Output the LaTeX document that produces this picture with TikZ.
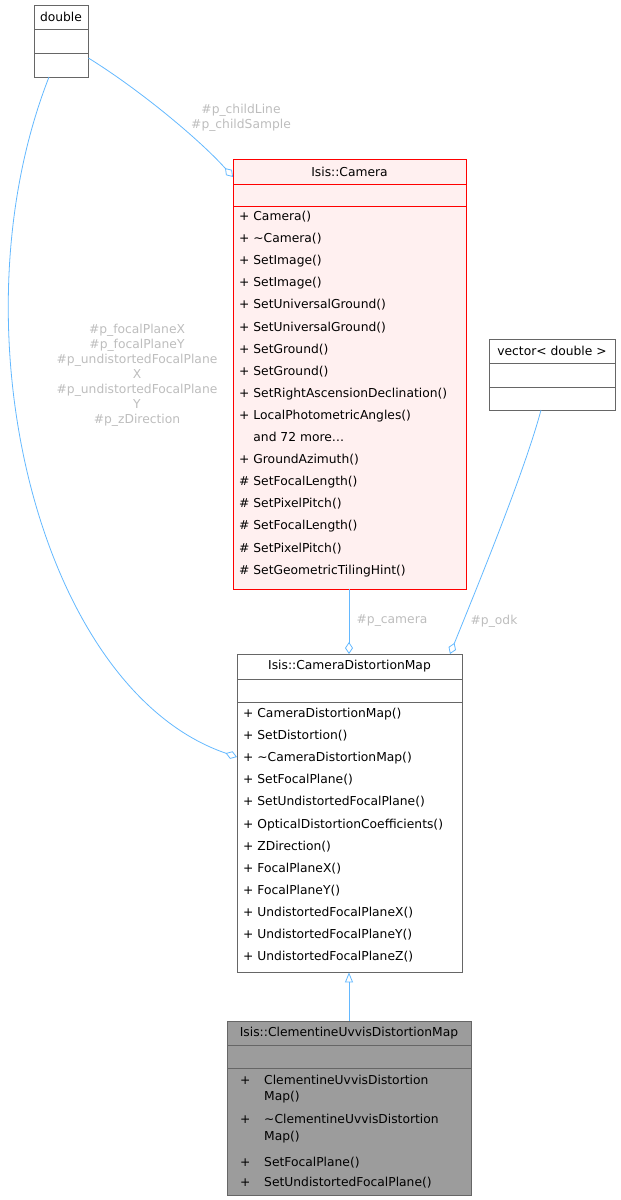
\documentclass[tikz,border=0pt]{standalone}
\usepackage{fontspec}
\setmainfont{DejaVu Sans}
\usetikzlibrary{arrows.meta}
\definecolor{edgeblue}{HTML}{63B8FF}
\definecolor{boxgray}{HTML}{666666}
\definecolor{lblgray}{HTML}{BDBDBD}
\definecolor{campink}{HTML}{FFF0F0}
\newcommand{\moreitems}{\phantom{+ }and 72 more\ldots}
\begin{document}
\begin{tikzpicture}[x=1pt,y=-1pt,
% class boxes and sections
box/.style = {draw=boxgray, fill=white, inner sep=0, anchor=north west},
title/.style = {font=\fontsize{12.3}{15}\selectfont, inner sep=0},
member/.style = {font=\fontsize{12.3}{15}\selectfont, inner sep=0, anchor=base west},
lbl/.style = {font=\fontsize{12.3}{15}\selectfont, text=lblgray, align=center, inner sep=0},
% connectors
agg/.style = {draw=edgeblue, line width=0.8pt, {Diamond[open,length=12pt,width=8pt]}-},
inh/.style = {draw=edgeblue, line width=0.8pt, {Triangle[open,length=10pt,width=8pt]}-}]
\useasboundingbox (0,0) rectangle (621,1200);

% double
\node[box, minimum width=54pt, minimum height=72pt] (dblbox) at (34,5) {};
\draw[boxgray] (34,29) -- (88,29) (34,53) -- (88,53);
\node[title] (dbl) at (61,17) {double};
\coordinate (dblout) at (49,77);

% Isis::Camera
\node[box, draw=red, fill=campink, minimum width=233pt, minimum height=430pt] (cambox) at (233,159) {};
\draw[red] (233,184) -- (466,184) (233,206) -- (466,206);
\node[title] (cam) at (349.5,171.5) {Isis::Camera};
\coordinate (camagg) at (233,177);
\foreach \m [count=\i from 0] in {+ Camera(), + \textasciitilde Camera(), + SetImage(), + SetImage(),
  + SetUniversalGround(), + SetUniversalGround(), + SetGround(), + SetGround(),
  + SetRightAscensionDeclination(), + LocalPhotometricAngles(), \moreitems,
  + GroundAzimuth(), \# SetFocalLength(), \# SetPixelPitch(), \# SetFocalLength(),
  \# SetPixelPitch(), \# SetGeometricTilingHint()}
  \node[member] (cm\i) at (239,{220.5+22.1*\i}) {\m};

% vector< double >
\node[box, minimum width=126pt, minimum height=71pt] (vecbox) at (489,339) {};
\draw[boxgray] (489,363) -- (615,363) (489,387) -- (615,387);
\node[title] (vec) at (552,351) {vector< double >};
\coordinate (vecout) at (541,410);

% Isis::CameraDistortionMap
\node[box, minimum width=225pt, minimum height=318pt] (cdmbox) at (237,654) {};
\draw[boxgray] (237,679) -- (462,679) (237,702) -- (462,702);
\node[title] (cdm) at (349.5,666.5) {Isis::CameraDistortionMap};
\foreach \m [count=\i from 0] in {CameraDistortionMap(), SetDistortion(), \textasciitilde CameraDistortionMap(),
  SetFocalPlane(), SetUndistortedFocalPlane(), OpticalDistortionCoefficients(), ZDirection(),
  FocalPlaneX(), FocalPlaneY(), UndistortedFocalPlaneX(), UndistortedFocalPlaneY(), UndistortedFocalPlaneZ()}
  \node[member] (dm\i) at (243,{717.5+22.1*\i}) {+ \m};
\coordinate (cdmagg) at (237,757);
\coordinate (cdmodk) at (450,654);

% Isis::ClementineUvvisDistortionMap
\node[box, fill=boxgray!65, minimum width=244pt, minimum height=174pt] (clmbox) at (227,1021) {};
\draw[boxgray] (227,1045) -- (471,1045) (227,1068) -- (471,1068);
\node[title] (clm) at (349,1033) {Isis::ClementineUvvisDistortionMap};
\node[member] (cp1) at (240,1084.5) {+};
\node[member] (cn1) at (264,1084.5) {ClementineUvvisDistortion};
\node[member] (cn1b) at (264,1100.5) {Map()};
\node[member] (cp2) at (240,1123.5) {+};
\node[member] (cn2) at (264,1123.5) {\textasciitilde ClementineUvvisDistortion};
\node[member] (cn2b) at (264,1140.5) {Map()};
\node[member] (cp3) at (240,1166.5) {+};
\node[member] (cn3) at (264,1166.5) {SetFocalPlane()};
\node[member] (cp4) at (240,1186.5) {+};
\node[member] (cn4) at (264,1186.5) {SetUndistortedFocalPlane()};

% connectors
\draw[agg] (camagg) .. controls (200,140) and (140,90) .. (dblbox.east |- 0,58);
\node[lbl] (l1) at (241,118) {\#p\_childLine\\\#p\_childSample};
\draw[agg] (cdmagg) .. controls (40,690) and (-50,330) .. (dblout);
\node[lbl] (l2) at (137,375) {\#p\_focalPlaneX\\\#p\_focalPlaneY\\\#p\_undistortedFocalPlane\\X\\\#p\_undistortedFocalPlane\\Y\\\#p\_zDirection};
\draw[agg] (cdmbox.north -| 349,0) -- (cambox.south -| 349,0);
\node[lbl] (l3) at (392,621) {\#p\_camera};
\draw[agg] (cdmodk) .. controls (480,580) and (525,470) .. (vecout);
\node[lbl] (l4) at (494,621) {\#p\_odk};
\draw[inh] (cdmbox.south -| 349,0) -- (clmbox.north -| 349,0);
\end{tikzpicture}
\end{document}
